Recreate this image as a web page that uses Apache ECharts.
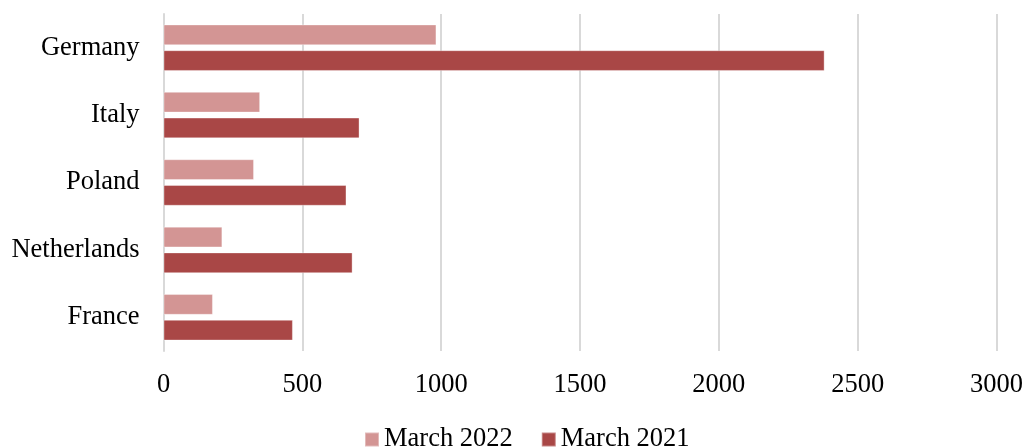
<!DOCTYPE html>
<html><head><meta charset="utf-8">
<script src="https://cdn.jsdelivr.net/npm/echarts@6/dist/echarts.min.js"></script>
<style>html,body{margin:0;padding:0;background:#fff}#c{width:1026px;height:448px}</style>
</head><body><div id="c"></div>
<script>
const categories = ["Germany", "Italy", "Poland", "Netherlands", "France"];
const march2022 = [983, 348, 326, 212, 178];
const march2021 = [2381, 706, 659, 681, 466];
const xTicks = [0, 500, 1000, 1500, 2000, 2500, 3000];

const font = "Liberation Serif";
const fs = 26.5;
const chart = echarts.init(document.getElementById('c'));
chart.setOption({
  animation: false,
  textStyle: {fontFamily: font},
  grid: {left: 163.5, right: 29, top: 14, bottom: 97, containLabel: false},
  legend: {
    bottom: -10, left: 359, itemWidth: 14, itemHeight: 14, itemGap: 28,
    icon: 'rect',
    textStyle: {fontFamily: font, fontSize: fs, color: '#000'},
    data: ['March 2022', 'March 2021']
  },
  xAxis: {
    type: 'value', min: xTicks[0], max: xTicks[xTicks.length-1], interval: 500,
    axisLine: {show: false}, axisTick: {show: false},
    splitLine: {lineStyle: {color: '#d9d9d9', width: 2}},
    axisLabel: {fontFamily: font, fontSize: fs, color: '#000', margin: 21,
      formatter: v => String(v)}
  },
  yAxis: {
    type: 'category', data: categories, inverse: true,
    axisLine: {lineStyle: {color: '#d9d9d9', width: 2}}, axisTick: {show: false},
    axisLabel: {fontFamily: font, fontSize: fs, color: '#000', margin: 24, padding: [6, 0, 0, 0]}
  },
  series: [
    {name: 'March 2022', type: 'bar', data: march2022, barGap: '24%', barCategoryGap: '31%',
     itemStyle: {color: '#d39594', borderColor: 'rgba(255,255,255,0.35)', borderWidth: 1}},
    {name: 'March 2021', type: 'bar', data: march2021,
     itemStyle: {color: '#a94746', borderColor: 'rgba(255,255,255,0.35)', borderWidth: 1}}
  ]
});
</script></body></html>
